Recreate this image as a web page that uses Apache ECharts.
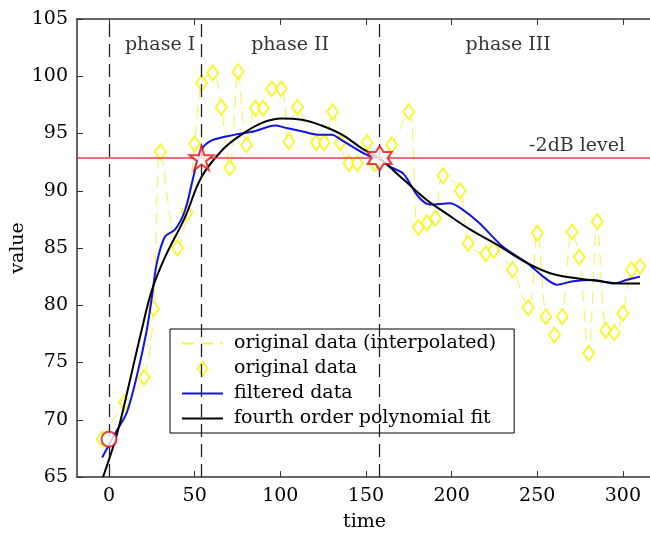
<!DOCTYPE html>
<html>
<head>
<meta charset="utf-8">
<title>phases</title>
<script src="https://cdn.jsdelivr.net/npm/echarts@6/dist/echarts.min.js"></script>
<style>
  html, body { margin: 0; padding: 0; background: #fff; }
  #chart { width: 650px; height: 533px; }
</style>
</head>
<body>
<div id="chart"></div>
<script>
// data
var timeTicks = [0, 50, 100, 150, 200, 250, 300];
var originalData = [
    [-4, 68.3], [9, 71.5], [20.5, 73.7], [26, 79.7], [30, 93.4], [40, 85], [45.5, 88.1],
    [50, 94.1], [54, 99.4], [60.5, 100.3], [65.5, 97.3], [70.5, 92], [75.4, 100.4],
    [80.3, 94], [85.5, 97.2], [90, 97.2], [95, 98.9], [100.5, 98.9], [105, 94.3],
    [110, 97.3], [121, 94.2], [125.6, 94.2], [130.5, 96.9], [135, 94.2], [140, 92.4],
    [145, 92.4], [150.7, 94.2], [155, 92.4], [165, 94], [175, 96.9], [180.5, 86.8],
    [185.5, 87.2], [190.5, 87.6], [195, 91.3], [205, 90], [209.7, 85.4], [220, 84.5],
    [224.5, 84.8], [235.5, 83.1], [244.7, 79.8], [250, 86.3], [255, 79], [260, 77.4],
    [264.6, 79], [270.4, 86.4], [274.5, 84.2], [280, 75.8], [285, 87.3], [290, 77.8],
    [295, 77.6], [300, 79.3], [305, 83.1], [310, 83.4]
];
var filteredData = [
    [-4, 66.7], [3.5, 68.8], [10.3, 70.6], [16.2, 73.8], [22, 77.8], [25, 80.7],
    [27.9, 83.7], [32.7, 86], [38.5, 86.6], [44.4, 88.3], [50.2, 91.8], [54, 93.6],
    [60, 94.4], [73.6, 94.9], [85, 95.2], [97, 95.7], [103, 95.5], [112.5, 95.2],
    [122, 94.9], [130, 94.9], [136, 94.4], [143.7, 93.7], [151, 93.1], [158, 92.8],
    [164, 92.1], [171.8, 91.5], [180.5, 89.5], [187.5, 88.8], [199, 88.9], [205, 88.5],
    [216, 87.2], [230, 85.1], [244, 83.7], [253.5, 82.5], [261.5, 81.8], [271, 82.1],
    [283, 82.2], [294.6, 81.9], [302, 82.2], [310, 82.5]
];
var polyFit = [
    [-3.5, 65], [0.6, 66.8], [5.3, 69.1], [12.3, 73.5], [19, 77.8], [25, 81.3],
    [32.7, 84.2], [44.4, 87.7], [54, 91.2], [65.8, 93.5], [75.4, 94.7], [89, 95.9],
    [100.9, 96.3], [112.5, 96.2], [124, 95.7], [136, 94.9], [147.6, 93.7], [158, 92.8],
    [171.8, 91], [185.5, 89.2], [197, 88], [211, 86.6], [226.5, 85.3], [244, 83.7],
    [257.6, 82.8], [271, 82.4], [286.8, 82.1], [298.5, 81.9], [310, 81.9]
];
var phaseBounds = [0, 54, 158];
var levelValue = 92.85;
var startPoint = [[0, 68.3]];
var crossPoints = [[54, 92.85], [158, 92.85]];
var phaseNames = ['phase I', 'phase II', 'phase III'];

var serif = 'DejaVu Serif';
var pentagram = 'path://M50,0 L61,35 L98,35 L68,57 L79,91 L50,70 L21,91 L32,57 L2,35 L39,35 Z';
var hexagram = 'path://M50,0 L64,25 L93,25 L79,50 L93,75 L64,75 L50,100 L36,75 L7,75 L21,50 L7,25 L36,25 Z';
var diamondIcon = 'path://M35,0 L70,50 L35,100 L0,50 Z';
var yellow = '#f8f400';

var chart = echarts.init(document.getElementById('chart'));

var option = {
    animation: false,
    backgroundColor: '#fff',
    grid: { left: 77, top: 19, width: 575, height: 458, containLabel: false, outerBoundsMode: 'none' },
    legend: {
        orient: 'vertical',
        left: 170,
        top: 329,
        padding: [5, 18, 5, 11],
        itemGap: 6,
        itemWidth: 41,
        itemHeight: 14,
        borderColor: '#000',
        borderWidth: 1,
        backgroundColor: '#fff',
        textStyle: { fontFamily: serif, fontSize: 19, color: '#000', padding: [0, 0, 0, 6] },
        data: [
            { name: 'original data (interpolated)', itemStyle: { opacity: 0 } },
            { name: 'original data', icon: diamondIcon,
              itemStyle: { color: 'rgba(255,255,255,0)', borderColor: yellow, borderWidth: 2 } },
            { name: 'filtered data', itemStyle: { opacity: 0 } },
            { name: 'fourth order polynomial fit', itemStyle: { opacity: 0 } }
        ]
    },
    xAxis: [{
        type: 'value',
        min: -18.7,
        max: 317,
        name: 'time',
        nameLocation: 'middle',
        nameGap: 36,
        nameTextStyle: { fontFamily: serif, fontSize: 19, color: '#000' },
        axisLine: { onZero: false, lineStyle: { color: '#333', width: 1.5 } },
        axisTick: { inside: true, length: 6, customValues: timeTicks, lineStyle: { color: '#333' } },
        axisLabel: { customValues: timeTicks, fontFamily: serif, fontSize: 19, color: '#000', margin: 10 },
        splitLine: { show: false }
    }, {
        type: 'value',
        position: 'top',
        min: -18.7,
        max: 317,
        axisLine: { onZero: false, lineStyle: { color: '#333', width: 1.5 } },
        axisTick: { inside: true, length: 6, customValues: timeTicks, lineStyle: { color: '#333' } },
        axisLabel: { show: false },
        splitLine: { show: false }
    }],
    yAxis: {
        type: 'value',
        min: 65,
        max: 105,
        interval: 5,
        name: 'value',
        nameLocation: 'middle',
        nameGap: 49,
        nameMoveOverlap: false,
        nameTextStyle: { fontFamily: serif, fontSize: 19, color: '#000' },
        axisLine: { show: true, onZero: false, lineStyle: { color: '#333', width: 1.5 } },
        axisTick: { inside: true, length: 6, lineStyle: { color: '#333' } },
        axisLabel: { fontFamily: serif, fontSize: 19, color: '#000', margin: 9 },
        splitLine: { show: false }
    },
    series: [
        {
            name: 'original data (interpolated)',
            type: 'line',
            data: originalData,
            smooth: 0.35,
            symbol: 'none',
            z: 1,
            lineStyle: { color: '#f6f250', width: 1, type: [12, 7] },
            itemStyle: { color: '#f6f250' }
        },
        {
            name: 'original data',
            type: 'scatter',
            data: originalData,
            symbol: 'emptyDiamond',
            symbolSize: [11, 15],
            z: 2,
            itemStyle: { color: yellow, borderColor: yellow, borderWidth: 2 }
        },
        {
            name: 'filtered data',
            type: 'line',
            data: filteredData,
            smooth: 0.3,
            symbol: 'none',
            z: 3,
            lineStyle: { color: '#1414e0', width: 2 },
            itemStyle: { color: '#1414e0' },
            markLine: {
                silent: true,
                symbol: 'none',
                label: { show: false },
                lineStyle: { color: '#222', width: 1.3, type: [13, 7] },
                data: phaseBounds.map(function (v) { return { xAxis: v }; })
            }
        },
        {
            name: 'fourth order polynomial fit',
            type: 'line',
            data: polyFit,
            smooth: 0.4,
            symbol: 'none',
            z: 4,
            lineStyle: { color: '#000', width: 2 },
            itemStyle: { color: '#000' },
            markLine: {
                silent: true,
                symbol: 'none',
                label: { show: false },
                lineStyle: { color: '#e0404a', width: 1.5, type: 'solid' },
                data: [{ yAxis: levelValue }]
            }
        },
        {
            name: 'markers',
            type: 'scatter',
            z: 6,
            data: [
                { value: crossPoints[0], symbol: pentagram, symbolSize: 24 },
                { value: crossPoints[1], symbol: hexagram, symbolSize: 24 },
                { value: startPoint[0], symbol: 'circle', symbolSize: 15 }
            ],
            itemStyle: { color: '#fff', borderColor: '#e01010', borderWidth: 2 }
        },
        {
            name: 'notes',
            type: 'scatter',
            z: 7,
            symbolSize: 0,
            silent: true,
            label: {
                show: true,
                position: 'inside',
                formatter: '{b}',
                fontFamily: serif,
                fontSize: 19,
                color: '#000'
            },
            data: [
                { name: phaseNames[0], value: [29.8, 102.7] },
                { name: phaseNames[1], value: [105.7, 102.7] },
                { name: phaseNames[2], value: [233, 102.7] },
                { name: '-2dB level', value: [273.3, 93.9] }
            ]
        }
    ]
};

chart.setOption(option);
</script>
</body>
</html>
